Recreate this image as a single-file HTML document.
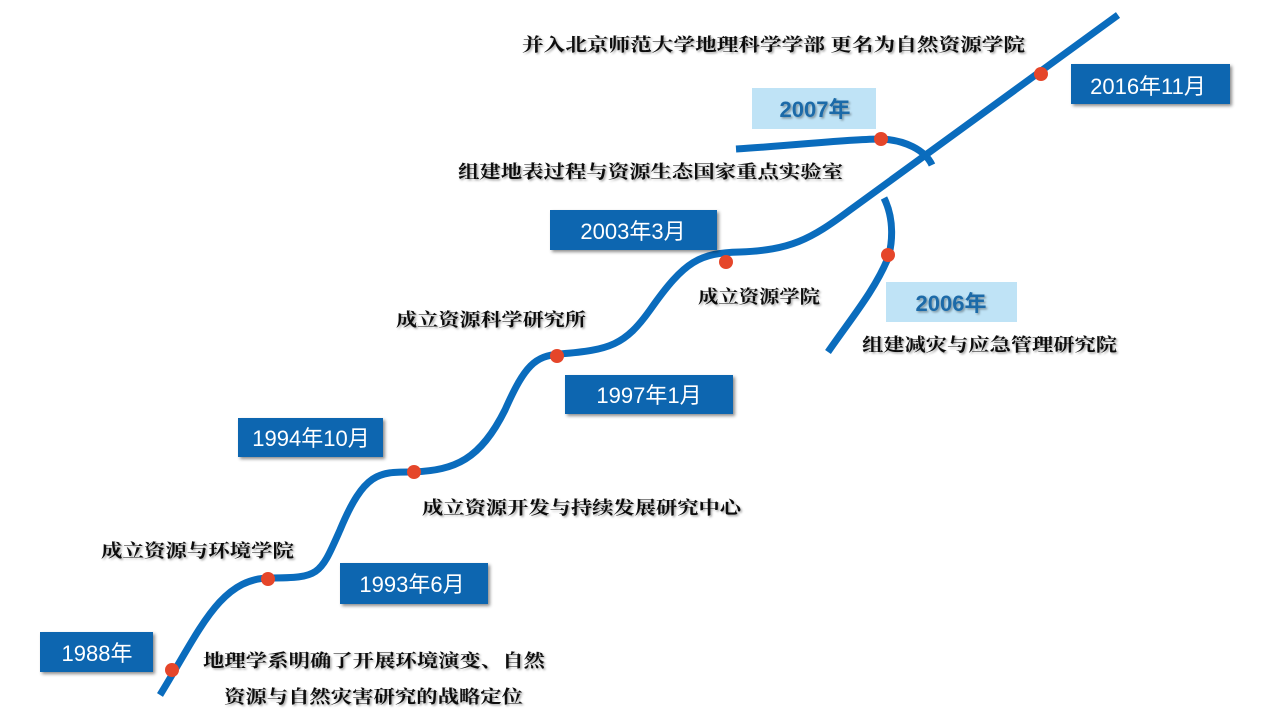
<!DOCTYPE html>
<html><head><meta charset="utf-8"><style>
html,body{margin:0;padding:0;background:#fff;}
svg{display:block}
.t{font-family:"Liberation Serif","Noto Serif CJK SC",serif;font-weight:bold;font-size:18px;fill:#111;}
.b{font-family:"Liberation Sans","Noto Sans CJK SC",sans-serif;font-size:22px;fill:#fff;}
.l{font-family:"Liberation Sans","Noto Sans CJK SC",sans-serif;font-size:22px;fill:#1a6aa8;font-weight:bold;}
</style></head><body>
<svg width="1280" height="720" viewBox="0 0 1280 720" xmlns="http://www.w3.org/2000/svg">
<defs>
<filter id="sh" x="-10%" y="-10%" width="130%" height="140%"><feDropShadow dx="2" dy="2" stdDeviation="1.5" flood-color="#000" flood-opacity="0.45"/></filter>
<filter id="ts" x="-5%" y="-20%" width="110%" height="150%"><feDropShadow dx="1.5" dy="1.5" stdDeviation="1" flood-color="#000" flood-opacity="0.35"/></filter>
</defs>
<g fill="none" stroke="#0a6cbd" stroke-width="7" stroke-linecap="butt">
<path d="M160,695 C200,630 220,578 270,578 C320,578 320,575 340,530 C365,470 380,472 414,472 C455,470 480,460 505,410 C525,365 535,356 560,354 C610,350 625,345 650,310 C685,260 700,253 740,252 C790,250 810,240 850,210 L1118,15"/>
<path d="M736,149 C800,145 850,139 881,139 C905,140 925,150 932,165"/>
<path d="M884,198 C895,220 892,245 888,258 C875,290 850,320 828,352"/>
</g>
<g fill="#e5462a">
<circle cx="172" cy="670" r="7"/><circle cx="268" cy="579" r="7"/><circle cx="414" cy="472" r="7"/>
<circle cx="557" cy="356" r="7"/><circle cx="726" cy="262" r="7"/><circle cx="881" cy="139" r="7"/>
<circle cx="888" cy="255" r="7"/><circle cx="1041" cy="74" r="7"/>
</g>
<g fill="#0866b0" filter="url(#sh)">
<rect x="40" y="632" width="113" height="40"/>
<rect x="340" y="563" width="148" height="41"/>
<rect x="238" y="418" width="145" height="39"/>
<rect x="565" y="375" width="168" height="39"/>
<rect x="550" y="210" width="167" height="40"/>
<rect x="1071" y="64" width="159" height="40"/>
</g>
<g fill="#bfe3f6">
<rect x="752" y="88" width="124" height="41"/>
<rect x="886" y="282" width="131" height="40"/>
</g>
<g class="b" text-anchor="middle">
<text x="97" y="661">1988年</text>
<text x="412" y="592">1993年6月</text>
<text x="311" y="446">1994年10月</text>
<text x="649" y="403">1997年1月</text>
<text x="633" y="239">2003年3月</text>
<text x="1148" y="94">2016年11月</text>
</g>
<g class="l" text-anchor="middle" filter="url(#ts)">
<text x="815" y="117">2007年</text>
<text x="951" y="311">2006年</text>
</g>
<g class="t" filter="url(#ts)">
<text x="522" y="51" textLength="503" lengthAdjust="spacingAndGlyphs">并入北京师范大学地理科学学部 更名为自然资源学院</text>
<text x="458" y="178" textLength="385" lengthAdjust="spacingAndGlyphs">组建地表过程与资源生态国家重点实验室</text>
<text x="396" y="326" textLength="190" lengthAdjust="spacingAndGlyphs">成立资源科学研究所</text>
<text x="698" y="303" textLength="122" lengthAdjust="spacingAndGlyphs">成立资源学院</text>
<text x="862" y="351" textLength="255" lengthAdjust="spacingAndGlyphs">组建减灾与应急管理研究院</text>
<text x="422" y="514" textLength="319" lengthAdjust="spacingAndGlyphs">成立资源开发与持续发展研究中心</text>
<text x="101" y="557" textLength="193" lengthAdjust="spacingAndGlyphs">成立资源与环境学院</text>
<text x="203" y="667" textLength="342" lengthAdjust="spacingAndGlyphs">地理学系明确了开展环境演变、自然</text>
<text x="224" y="703" textLength="299" lengthAdjust="spacingAndGlyphs">资源与自然灾害研究的战略定位</text>
</g>
</svg>
</body></html>
